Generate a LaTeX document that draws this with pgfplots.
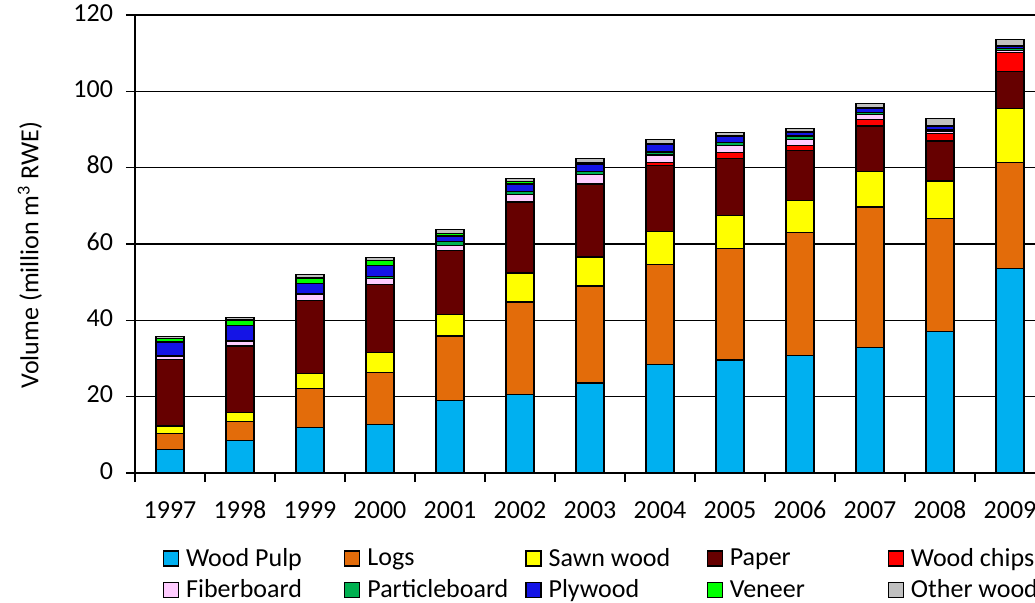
\documentclass[border=0pt]{standalone}
\usepackage{fontspec}
\setmainfont{Carlito}
\usepackage{pgfplots}
\pgfplotsset{compat=1.18}
\usepackage{pgfplotstable}

\definecolor{cpulp}{RGB}{0,176,240}
\definecolor{clogs}{RGB}{227,108,10}
\definecolor{csawn}{RGB}{255,255,0}
\definecolor{cpaper}{RGB}{102,0,0}
\definecolor{cchips}{RGB}{255,0,0}
\definecolor{cfiber}{RGB}{255,204,255}
\definecolor{cpart}{RGB}{0,176,80}
\definecolor{cply}{RGB}{20,20,230}
\definecolor{cven}{RGB}{0,255,0}
\definecolor{cother}{RGB}{192,192,192}

\pgfplotstableread{
x  pulp logs sawn paper chips fiber particle plywood veneer other
0  6.1  4.3  1.9  17.5  0.0   0.7   0.2      3.6     1.0    0.4
1  8.6  4.8  2.5  17.4  0.0   1.2   0.2      4.0     1.4    0.7
2  12.0 10.2 3.9  19.2  0.0   1.4   0.3      2.7     1.4    1.0
3  12.8 13.6 5.2  17.7  0.0   1.7   0.4      2.9     1.4    0.7
4  19.1 16.8 5.7  16.6  0.0   1.5   1.0      1.4     0.7    0.9
5  20.5 24.3 7.6  18.5  0.1   2.0   0.7      2.0     0.7    0.8
6  23.6 25.4 7.6  18.9  0.2   2.6   0.7      1.9     0.3    1.3
7  28.4 26.2 8.6  17.4  0.7   2.0   0.8      2.0     0.2    1.1
8  29.6 29.2 8.6  15.1  1.4   2.0   0.7      1.5     0.3    0.9
9  30.7 32.3 8.5  12.9  1.5   1.5   0.9      0.9     0.2    0.9
10 32.9 36.8 9.2  12.0  1.8   1.3   0.4      1.1     0.2    1.1
11 37.1 29.6 9.8  10.5  1.9   0.7   0.5      0.8     0.1    1.8
12 53.6 27.7 14.2 9.8   4.8   0.5   0.6      0.5     0.3    1.6
}\data

\newcommand{\lt}[1]{\makebox[79pt][l]{#1}}

\begin{document}
\begin{tikzpicture}
\begin{axis}[
  name=ax,
  scale only axis,
  width=455pt, height=229pt,
  ybar stacked,
  bar width=14pt,
  xmin=-0.5, xmax=12.5,
  ymin=0, ymax=120,
  ytick={0,20,...,120},
  xtick={0,...,12},
  xticklabels={1997,1998,1999,2000,2001,2002,2003,2004,2005,2006,2007,2008,2009},
  minor xtick={-0.5,0.5,...,12.5},
  major x tick style={draw=none},
  tick align=outside,
  major tick length=4.5pt,
  minor tick length=4.5pt,
  tick style={black, line width=0.75pt},
  axis lines*=left,
  axis line style={black, line width=1pt},
  ymajorgrids,
  major grid style={black, line width=0.75pt},
  font=\fontsize{13}{15}\selectfont,
  ticklabel style={font=\fontsize{13}{15}\selectfont},
  typeset ticklabels with strut,
  /pgf/number format/assume math mode=true,
  xticklabel style={yshift=-4pt},
  yticklabel style={xshift=-3pt},
  every axis y label/.style={at={(axis description cs:-0.1154,0.476)}, rotate=90, anchor=center},
  ylabel={Volume (million m\textsuperscript{3} RWE)},
  every axis plot/.append style={draw=black, line width=0.6pt,
    legend image code/.code={\draw[##1, draw=black, line width=0.6pt] (0pt,-3.75pt) rectangle (7.5pt,3.75pt);}},
  legend columns=5,
  legend cell align=left,
  legend style={at={(axis description cs:0,0)}, anchor=north west, xshift=14pt, yshift=-37.5pt,
    draw=none, fill=none, inner sep=0pt, outer sep=0pt, row sep=5.3pt,
    nodes={inner sep=0pt, outer sep=0pt},
    /tikz/every odd column/.append style={column sep=3.5pt},
    font=\fontsize{13}{15}\selectfont},
]
\addplot[fill=cpulp] table[x=x,y=pulp]{\data};
\addlegendentry{\lt{Wood Pulp}}
\addplot[fill=clogs] table[x=x,y=logs]{\data};
\addlegendentry{\lt{Logs}}
\addplot[fill=csawn] table[x=x,y=sawn]{\data};
\addlegendentry{\lt{Sawn wood}}
\addplot[fill=cpaper] table[x=x,y=paper]{\data};
\addlegendentry{\lt{Paper}}
\addplot[fill=cchips] table[x=x,y=chips]{\data};
\addlegendentry{\lt{Wood chips}}
\addplot[fill=cfiber] table[x=x,y=fiber]{\data};
\addlegendentry{\lt{Fiberboard}}
\addplot[fill=cpart] table[x=x,y=particle]{\data};
\addlegendentry{\lt{Particleboard}}
\addplot[fill=cply] table[x=x,y=plywood]{\data};
\addlegendentry{\lt{Plywood}}
\addplot[fill=cven] table[x=x,y=veneer]{\data};
\addlegendentry{\lt{Veneer}}
\addplot[fill=cother] table[x=x,y=other]{\data};
\addlegendentry{\lt{Other wood}}
\end{axis}
\pgfresetboundingbox
\path[use as bounding box] ([xshift=-67.5pt,yshift=-64.5pt]ax.south west) rectangle ([xshift=450pt,yshift=236.5pt]ax.south west);
\end{tikzpicture}
\end{document}
